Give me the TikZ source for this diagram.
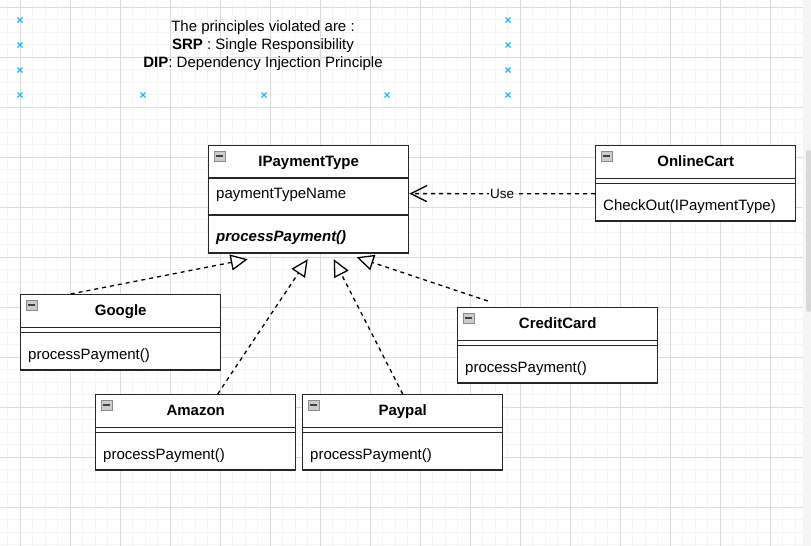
\documentclass[tikz,border=0pt]{standalone}
\usepackage{fontspec}
\setmainfont{Liberation Sans}
\usetikzlibrary{arrows.meta,shapes.multipart}
\definecolor{handleblue}{HTML}{29B6F2}
\newcommand{\headstrut}{\rule[-10.7pt]{0pt}{31.2pt}}
\newcommand{\gapstrut}{\phantom{\rule{1pt}{3.6pt}}}
\newcommand{\opstrut}{\rule[-9.4pt]{0pt}{36.2pt}}

\begin{document}
\begin{tikzpicture}[x=1pt,y=-1pt,font=\fontsize{15}{18}\selectfont,
	umlclass/.style={rectangle split, rectangle split parts=3, rectangle split part align={center,left,left},
		draw=black!85, line width=1.4pt, fill=white, minimum width=200pt, inner xsep=7.5pt, inner ysep=0pt, anchor=north west},
	realize/.style={dash pattern=on 4pt off 4pt, line width=1.3pt, -{Triangle[length=17pt,width=16pt,fill=white]}},
	depends/.style={dash pattern=on 4pt off 4pt, line width=1.3pt, -{Straight Barb[length=16pt,width=16pt]}},
	minorgrid/.style={black!4, line width=0.8pt},
	majorgrid/.style={black!14, line width=1pt},
	handle/.style={handleblue, line width=1.4pt},
	minusbox/.style={draw=black!45, fill=black!20, line width=0.8pt},
	minusbar/.style={black!75, line width=1.3pt}]
	\useasboundingbox (0,0) rectangle (811,546);
	\fill[white] (0,0) rectangle (811,546);
	\foreach \i in {0,...,63} \draw[minorgrid] ({7.5+12.5*\i},0) -- ({7.5+12.5*\i},546);
	\foreach \i in {0,...,43} \draw[minorgrid] (0,{7+12.5*\i}) -- (803,{7+12.5*\i});
	\foreach \i in {0,...,15} \draw[majorgrid] ({20+50*\i},0) -- ({20+50*\i},546);
	\foreach \i in {0,...,10} \draw[majorgrid] (0,{7+50*\i}) -- (803,{7+50*\i});
	\fill[black!4] (803,0) rectangle (811,546);
	\fill[black!15, rounded corners=2.5pt] (806,150) rectangle (811,312);

	\foreach \p in {(20,20),(20,45),(20,70),(20,95),(143,95),(264,95),(387,95),(508,95),(508,70),(508,45),(508,20)}
		\draw[handle] \p +(-2.5,-2.5) -- +(2.5,2.5) \p +(-2.5,2.5) -- +(2.5,-2.5);

	\node[align=center] (violations) at (263,46) {The principles violated are :\\\textbf{SRP} : Single Responsibility\\\textbf{DIP}: Dependency Injection Principle};

	\node[umlclass] (ipay) at (208,145) {\rule[-10.2pt]{0pt}{30.7pt}\textbf{IPaymentType}\nodepart{second}\rule[-16.2pt]{0pt}{35.7pt}paymentTypeName\nodepart{third}\rule[-11.2pt]{0pt}{36.7pt}\textbf{\itshape processPayment()}};
	\node[umlclass] (cart) at (595,145) {\headstrut\textbf{OnlineCart}\nodepart{second}\gapstrut\nodepart{third}\opstrut CheckOut(IPaymentType)};
	\node[umlclass] (google) at (20,294) {\headstrut\textbf{Google}\nodepart{second}\gapstrut\nodepart{third}\opstrut processPayment()};
	\node[umlclass] (credit) at (457,307) {\headstrut\textbf{CreditCard}\nodepart{second}\gapstrut\nodepart{third}\opstrut processPayment()};
	\node[umlclass] (amazon) at (95,394) {\headstrut\textbf{Amazon}\nodepart{second}\gapstrut\nodepart{third}\opstrut processPayment()};
	\node[umlclass] (paypal) at (302,394) {\headstrut\textbf{Paypal}\nodepart{second}\gapstrut\nodepart{third}\opstrut processPayment()};

	\foreach \c in {ipay,cart,google,credit,amazon,paypal} {
		\draw[minusbox] ([xshift=6pt,yshift=-6pt]\c.north west) rectangle +(11,10);
		\draw[minusbar] ([xshift=8pt,yshift=-11pt]\c.north west) -- +(7,0);
	}

	\draw[realize] ([xshift=-50pt]google.north) -- ([xshift=-61pt,yshift=-5.5pt]ipay.south);
	\draw[realize] ([xshift=22pt]amazon.north) -- ([xshift=-1pt,yshift=-5.5pt]ipay.south);
	\draw[realize] (paypal.north) -- ([xshift=25pt,yshift=-5.5pt]ipay.south);
	\draw[realize] ([xshift=-70pt,yshift=6pt]credit.north) -- ([xshift=48pt,yshift=-3.5pt]ipay.south);
	\draw[depends] ([yshift=-10.5pt]cart.west) -- node[fill=white, inner sep=1pt, font=\fontsize{13.5}{16}\selectfont] {Use} ([yshift=5.75pt]ipay.east);
\end{tikzpicture}
\end{document}
